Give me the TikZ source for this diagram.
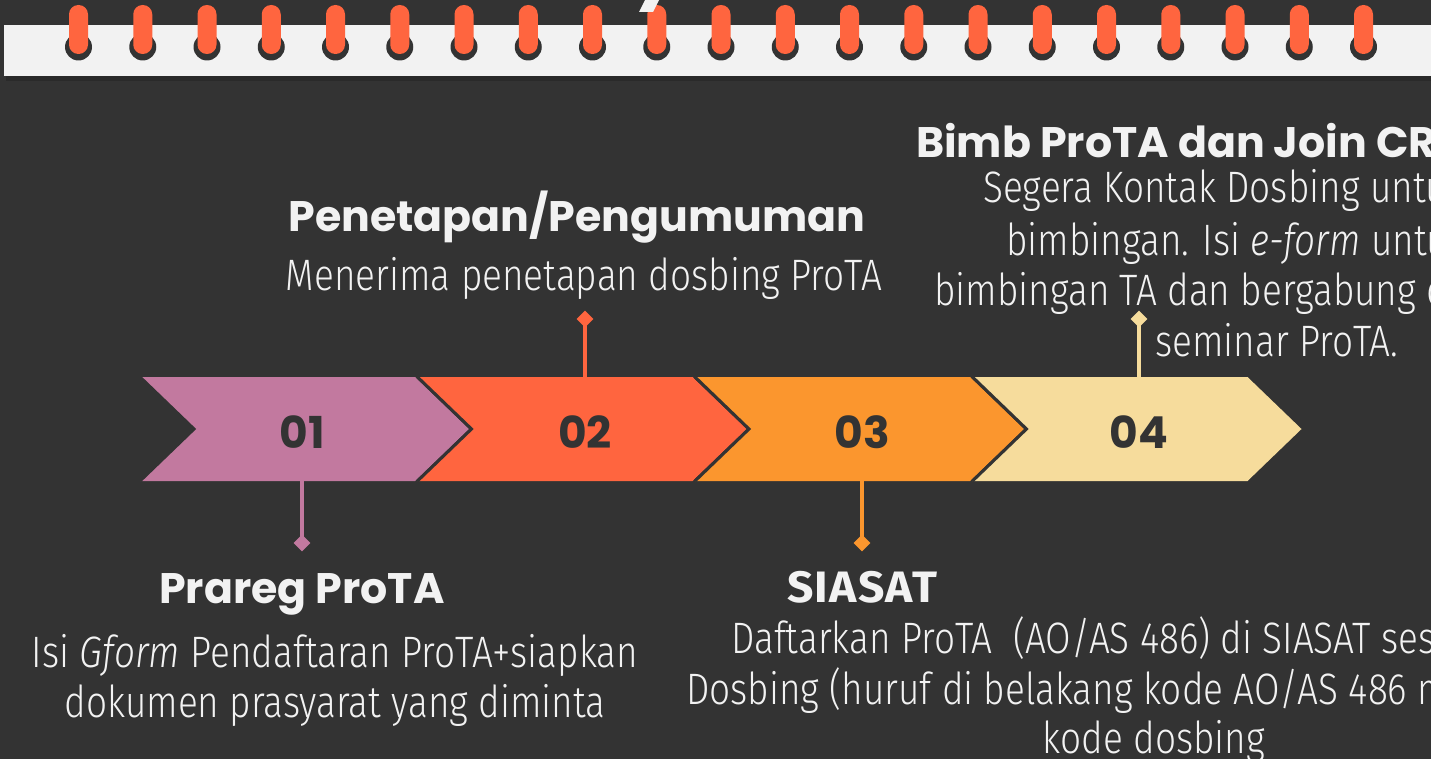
\documentclass[tikz,border=0pt]{standalone}
\usepackage{fontspec}
\usetikzlibrary{shapes.geometric}
\newfontfamily\pop{Poppins}
\newfontfamily\bodyf{Fira Sans Light}[FakeStretch=0.84]
\newfontfamily\condf{Fira Sans}[FakeStretch=1.05,LetterSpace=3]
\definecolor{bg}{HTML}{333333}
\definecolor{shadowc}{HTML}{2A2A2A}
\definecolor{strip}{HTML}{F2F2F2}
\definecolor{ringc}{HTML}{FF653F}
\definecolor{cA}{HTML}{C2799F}
\definecolor{cB}{HTML}{FF653F}
\definecolor{cC}{HTML}{FB962E}
\definecolor{cD}{HTML}{F6DC9C}
\definecolor{txt}{HTML}{F2F2F2}
\tikzset{
  head/.style={text=txt, inner sep=0pt, font=\pop\bfseries\fontsize{42.7}{50}\selectfont},
  body/.style={text=txt, inner sep=0pt, font=\bodyf\fontsize{44}{51}\selectfont},
  num/.style={text=bg, inner sep=0pt, font=\pop\bfseries\fontsize{44}{50}\selectfont},
  diam/.style={diamond, inner sep=0pt, minimum size=17pt},
  conn/.style={line width=4.5pt}
}
\begin{document}
\begin{tikzpicture}[x=1pt,y=-1pt]
\useasboundingbox (0,0) rectangle (1431,759);
\fill[bg] (0,0) rectangle (1431,759);
% binder strip
\fill[shadowc] (6,76) rectangle (1431,81);
\fill[strip] (4,25) rectangle (1431,76);
\foreach \i in {0,...,20} {
  \pgfmathsetmacro\cx{78.5+64.25*\i}
  \fill[bg] (\cx,47) circle (13.5pt);
  \fill[ringc, rounded corners=9.4pt] (\cx-9.5,5) rectangle (\cx+9.5,54);
}
\fill[strip] (645,0) -- (659,0) -- (653,12) -- (639,12) -- cycle;
% chevrons
\foreach \i/\c in {0/cA,1/cB,2/cC,3/cD} {
  \pgfmathsetmacro\L{140+277.5*\i}
  \fill[\c] (\L,377) -- (\L+275,377) -- (\L+329,429) -- (\L+275,481) -- (\L,481) -- (\L+54,429) -- cycle;
  \draw[bg, line width=3pt] (\L,377) -- (\L+54,429) -- (\L,481);
}
\node[num] (n1) at (302,432) {01};
\node[num] (n2) at (585,432) {02};
\node[num] (n3) at (862,432) {03};
\node[num] (n4) at (1139,432) {04};
% connectors
\coordinate (c1) at (302,481);
\coordinate (c2) at (585,377);
\coordinate (c3) at (862,481);
\coordinate (c4) at (1139,377);
\node[diam, fill=cA] (d1) at (302,543) {};
\node[diam, fill=cB] (d2) at (585,319) {};
\node[diam, fill=cC] (d3) at (862,543) {};
\node[diam, fill=cD] (d4) at (1139,319) {};
\draw[conn, cA] (c1) -- (d1.center);
\draw[conn, cB] (c2) -- (d2.center);
\draw[conn, cC] (c3) -- (d3.center);
\draw[conn, cD] (c4) -- (d4.center);
% texts step 2
\node[head, anchor=base] (h2) at (577,232) {Penetapan/Pengumuman};
\node[body, anchor=base] (b2) at (584,290) {Menerima penetapan dosbing ProTA};
% texts step 4
\node[head, anchor=base west] (h4) at (916,158) {Bimb ProTA dan Join CR};
\node[body, anchor=base west] (b4a) at (983,203) {Segera Kontak Dosbing untu};
\node[body, anchor=base west] (b4b) at (1006,255) {bimbingan. Isi \textit{e-form} untu};
\node[body, anchor=base west] (b4c) at (934,305) {bimbingan TA dan bergabung d};
\node[body, anchor=base west] (b4d) at (1155,356) {seminar ProTA.};
% texts step 1
\node[head, anchor=base] (h1) at (302,603) {Prareg ProTA};
\node[body, anchor=base] (b1a) at (335,667) {Isi \textit{Gform} Pendaftaran ProTA+siapkan};
\node[body, anchor=base] (b1b) at (335,717) {dokumen prasyarat yang diminta};
% texts step 3
\node[text=txt, inner sep=0pt, font=\condf\bfseries\fontsize{44}{50}\selectfont, anchor=base] (h3) at (862,602) {SIASAT};
\node[body, anchor=base west] (b3a) at (731,653) {Daftarkan ProTA\ \ (AO/AS 486) di SIASAT ses};
\node[body, anchor=base west] (b3b) at (686,704) {Dosbing (huruf di belakang kode AO/AS 486 m};
\node[body, anchor=base] (b3c) at (1154,753) {kode dosbing};
\end{tikzpicture}
\end{document}
